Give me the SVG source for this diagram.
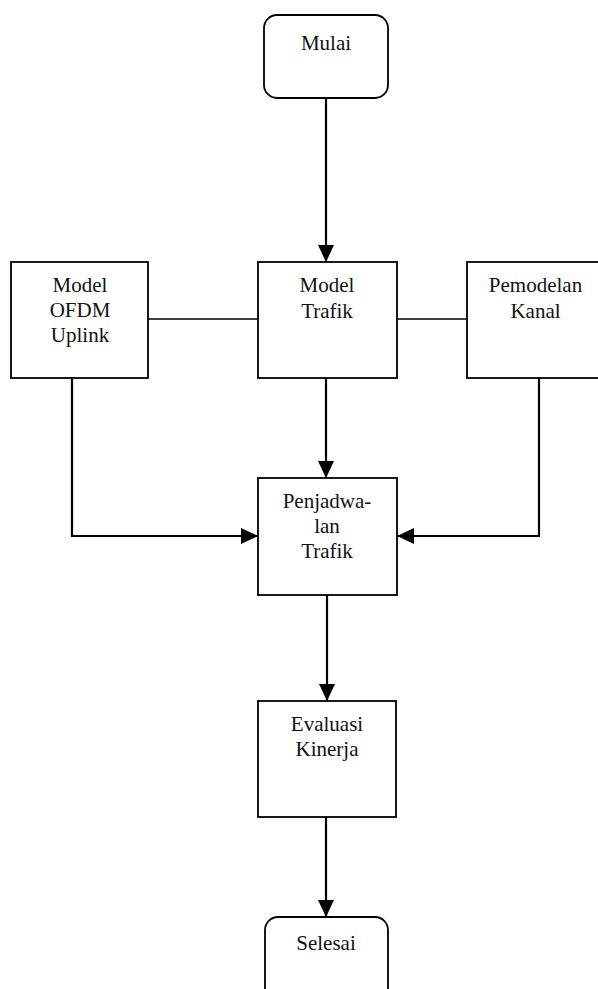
<svg xmlns="http://www.w3.org/2000/svg" width="598" height="989" viewBox="0 0 598 989">
<style>
.box{fill:#fff;stroke:#000;stroke-width:1.8}
.t{font-family:"Liberation Serif","Times New Roman",serif;font-size:21px;fill:#111;text-anchor:middle}
.c{fill:none;stroke:#000;stroke-width:2.2}
.thin{fill:none;stroke:#000;stroke-width:1.4}
</style>
<defs>
<marker id="ah" markerUnits="userSpaceOnUse" markerWidth="18" markerHeight="18" refX="17" refY="8" orient="auto">
<path d="M0,0 L17,8 L0,16 Z" fill="#000"/>
</marker>
</defs>
<g id="connectors">
<line class="c" x1="326" y1="98" x2="326" y2="262" marker-end="url(#ah)"/>
<line class="thin" x1="148" y1="319" x2="258" y2="319"/>
<line class="thin" x1="397" y1="319" x2="467" y2="319"/>
<line class="c" x1="326" y1="378" x2="326" y2="478" marker-end="url(#ah)"/>
<path class="c" d="M148,377 H72 V536 H258" marker-end="url(#ah)"/>
<path class="c" d="M539,375 V536 H397" marker-end="url(#ah)"/>
<line class="c" x1="327" y1="595" x2="327" y2="701" marker-end="url(#ah)"/>
<line class="c" x1="326" y1="817" x2="326" y2="917" marker-end="url(#ah)"/>
</g>
<g id="mulai">
<rect class="box" x="264" y="15" width="124" height="83" rx="13"/>
<text class="t" x="326" y="50">Mulai</text>
</g>
<g id="model-ofdm">
<rect class="box" x="11" y="262" width="137" height="116"/>
<text class="t" x="80" y="292">Model</text>
<text class="t" x="80" y="317">OFDM</text>
<text class="t" x="80" y="342">Uplink</text>
</g>
<g id="model-trafik">
<rect class="box" x="258" y="262" width="139" height="116"/>
<text class="t" x="327" y="292">Model</text>
<text class="t" x="327" y="318">Trafik</text>
</g>
<g id="pemodelan-kanal">
<rect class="box" x="467" y="262" width="137" height="116"/>
<text class="t" x="535.5" y="292">Pemodelan</text>
<text class="t" x="535.5" y="318">Kanal</text>
</g>
<g id="penjadwalan">
<rect class="box" x="258" y="478" width="139" height="117"/>
<text class="t" x="327" y="508">Penjadwa-</text>
<text class="t" x="327" y="533">lan</text>
<text class="t" x="327" y="558">Trafik</text>
</g>
<g id="evaluasi">
<rect class="box" x="258" y="701" width="138" height="116"/>
<text class="t" x="327" y="731">Evaluasi</text>
<text class="t" x="327" y="756">Kinerja</text>
</g>
<g id="selesai">
<rect class="box" x="265" y="917" width="123" height="85" rx="13"/>
<text class="t" x="326" y="950">Selesai</text>
</g>
</svg>
